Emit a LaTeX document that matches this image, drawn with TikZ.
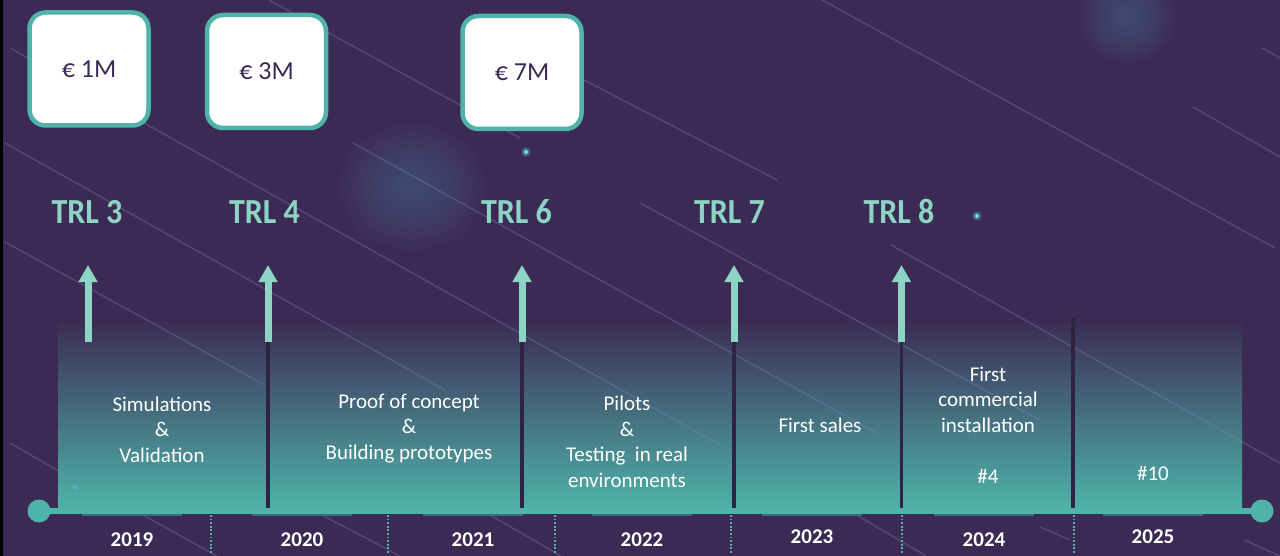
\documentclass[tikz,border=0pt]{standalone}
\usepackage{fontspec}
\setmainfont{Carlito}
\usetikzlibrary{arrows.meta}

\definecolor{bg}{HTML}{3B2A53}
\definecolor{tealbar}{HTML}{4FB3AA}
\definecolor{mint}{HTML}{8DD4C5}
\definecolor{sepc}{HTML}{2E2343}
\definecolor{ink}{HTML}{3B2A55}
\definecolor{glowc}{HTML}{4E6E98}
\definecolor{midc}{HTML}{405772}
\definecolor{streakc}{HTML}{7E86B8}
\definecolor{sparkc}{HTML}{6FE3EC}
\definecolor{underc}{HTML}{3E6A7A}

\newcommand{\trltext}[1]{\scalebox{1}[1.1]{#1}}

\tikzset{
  moneybox/.style={draw=tealbar, line width=4.5pt, fill=white, rounded corners=16pt,
    minimum width=119pt, minimum height=113pt, inner sep=0pt, text=ink,
    font=\fontsize{26}{30}\selectfont},
  trl/.style={text=mint, inner sep=0pt, anchor=base, font=\bfseries\fontsize{32}{36}\selectfont},
  trlarrow/.style={mint, line width=7pt, -{Triangle[length=17pt,width=18pt]}},
  sepline/.style={sepc, line width=3.5pt},
  phase/.style={text=white, align=center, inner sep=0pt, anchor=base,
    font=\fontsize{21}{25.5}\selectfont},
  year/.style={text=white, inner sep=0pt, anchor=base, font=\bfseries\fontsize{21}{24}\selectfont},
  bar/.style={tealbar, line width=6pt},
  enddot/.style={circle, fill=tealbar, minimum size=23pt, inner sep=0pt},
  tick/.style={tealbar, line width=1.8pt, dash pattern=on 1.8pt off 1.8pt},
  streak/.style={streakc, opacity=.33, line width=1.4pt},
  under/.style={underc, line width=1.6pt},
  haze/.style={glowc, opacity=.06},
}

\begin{document}
\begin{tikzpicture}[x=1pt,y=-1pt]
  % canvas
  \fill[bg] (0,0) rectangle (1280,556);
  \useasboundingbox (0,0) rectangle (1280,556);
  \fill[black] (0,0) rectangle (2.5,556);

  % soft glows, built from stacked translucent discs
  \foreach \k in {1,...,12} {
    \fill[haze] (412,187) ellipse ({6*\k} and {5.3*\k});
    \fill[haze] (1127,16) ellipse ({4*\k} and {4*\k});
  }

  % phase band
  \fill[top color=bg, middle color=midc, bottom color=tealbar] (58,318) rectangle (1242,510);

  % shooting-star streaks
  \foreach \xa/\ya/\xb/\yb in {
      10/48/720/445, 5/143/445/390, 5/242/265/385, 269/0/520/138,
      353/143/880/435, 584/80/777/180, 822/0/1275/248,
      640/203/1040/420, 891/245/1280/463, 1193/107/1280/157, 1262/48/1280/58,
      143/515/217/556, 1244/540/1280/556, 1040/527/1070/540, 10/443/69/477,
      318/513/400/556, 490/515/561/556, 848/510/926/556}
    \draw[streak] (\xa,\ya) -- (\xb,\yb);

  % sparks
  \foreach \sx/\sy in {526/152, 977/216} {
    \fill[sparkc, opacity=.3] (\sx,\sy) circle (4.5);
    \fill[sparkc] (\sx,\sy) circle (2);
  }
  \fill[sparkc, opacity=.25] (75,487) circle (2.5);

  % funding boxes
  \node[moneybox] (m1) at (89,69) {€ 1M};
  \node[moneybox] (m2) at (266.5,71.5) {€ 3M};
  \node[moneybox] (m3) at (522,72.5) {€ 7M};

  % readiness levels
  \node[trl] (t3) at (87,224) {\trltext{TRL 3}};
  \node[trl] (t4) at (264.5,224) {\trltext{TRL 4}};
  \node[trl] (t6) at (516.5,224) {\trltext{TRL 6}};
  \node[trl] (t7) at (729.5,224) {\trltext{TRL 7}};
  \node[trl] (t8) at (899,224) {\trltext{TRL 8}};

  % arrows and phase dividers
  \foreach \n/\x in {3/88, 4/268, 6/522, 7/734, 8/901.5} {
    \coordinate (a\n b) at (\x,342);
    \coordinate (a\n t) at (\x,265);
    \coordinate (d\n) at (\x,508);
  }
  \foreach \n in {4,6,7,8} \draw[sepline] (a\n b) -- (d\n);
  \coordinate (s9t) at (1073,318);
  \coordinate (s9b) at (1073,508);
  \draw[sepline] (s9t) -- (s9b);
  \foreach \n in {3,4,6,7,8} \draw[trlarrow] (a\n b) -- (a\n t);

  % phase descriptions (anchored on the last line's baseline)
  \node[phase] (p1) at (162,462) {Simulations\\\&\\Validation};
  \node[phase] (p2) at (409,459) {Proof of concept\\\&\\Building prototypes};
  \node[phase] (p3) at (627,487) {Pilots\\\&\\Testing\ \ in real\\environments};
  \node[phase] (p4) at (820,432) {First sales};
  \node[phase] (p5) at (988,432) {First\\commercial\\installation};
  \node[phase] (p5n) at (988,483) {\#4};
  \node[phase] (p6n) at (1153,480) {\#10};

  % timeline
  \node[enddot] (dl) at (39,511) {};
  \node[enddot] (dr) at (1262,511) {};
  \draw[bar] (dl.center) -- (dr.center);
  \foreach \x in {132,302,473,642,812,984,1153}
    \draw[under] (\x-50,515) -- (\x+50,515);

  % year ticks
  \foreach \x in {211,388,555,731,902,1074}
    \draw[tick] (\x,515) -- (\x,553);

  % years
  \node[year] (y19) at (132,546) {2019};
  \node[year] (y20) at (302,546) {2020};
  \node[year] (y21) at (473,546) {2021};
  \node[year] (y22) at (642,546) {2022};
  \node[year] (y23) at (812,543) {2023};
  \node[year] (y24) at (984,546) {2024};
  \node[year] (y25) at (1153,543) {2025};
\end{tikzpicture}
\end{document}
